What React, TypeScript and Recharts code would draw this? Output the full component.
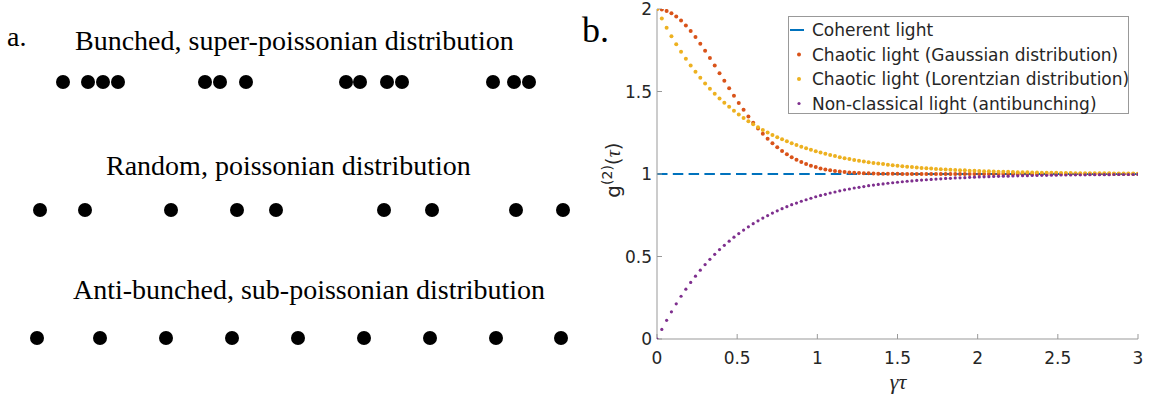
import React from "react";
import { LineChart, Line, XAxis, YAxis, ScatterChart, Scatter } from "recharts";

// panel b: g2(tau) curves, sampled every 0.03
const tau = [
	0, 0.03, 0.06, 0.09, 0.12, 0.15, 0.18, 0.21, 0.24, 0.27,
	0.3, 0.33, 0.36, 0.39, 0.42, 0.45, 0.48, 0.51, 0.54, 0.57,
	0.6, 0.63, 0.66, 0.69, 0.72, 0.75, 0.78, 0.81, 0.84, 0.87,
	0.9, 0.93, 0.96, 0.99, 1.02, 1.05, 1.08, 1.11, 1.14, 1.17,
	1.2, 1.23, 1.26, 1.29, 1.32, 1.35, 1.38, 1.41, 1.44, 1.47,
	1.5, 1.53, 1.56, 1.59, 1.62, 1.65, 1.68, 1.71, 1.74, 1.77,
	1.8, 1.83, 1.86, 1.89, 1.92, 1.95, 1.98, 2.01, 2.04, 2.07,
	2.1, 2.13, 2.16, 2.19, 2.22, 2.25, 2.28, 2.31, 2.34, 2.37,
	2.4, 2.43, 2.46, 2.49, 2.52, 2.55, 2.58, 2.61, 2.64, 2.67,
	2.7, 2.73, 2.76, 2.79, 2.82, 2.85, 2.88, 2.91, 2.94, 2.97,
	3,
];

const gaussian = [
	2.0, 1.997, 1.988, 1.974, 1.954, 1.93, 1.9, 1.867, 1.83, 1.79,
	1.747, 1.703, 1.657, 1.611, 1.565, 1.519, 1.474, 1.431, 1.389, 1.349,
	1.311, 1.276, 1.244, 1.214, 1.186, 1.162, 1.139, 1.119, 1.102, 1.086,
	1.072, 1.061, 1.05, 1.042, 1.034, 1.028, 1.023, 1.018, 1.015, 1.012,
	1.009, 1.007, 1.006, 1.005, 1.004, 1.003, 1.002, 1.002, 1.001, 1.001,
	1.001, 1, 1, 1, 1, 1, 1, 1, 1, 1,
	1, 1, 1, 1, 1, 1, 1, 1, 1, 1,
	1, 1, 1, 1, 1, 1, 1, 1, 1, 1,
	1, 1, 1, 1, 1, 1, 1, 1, 1, 1,
	1, 1, 1, 1, 1, 1, 1, 1, 1, 1,
	1,
];

const lorentzian = [
	2.0, 1.942, 1.887, 1.835, 1.787, 1.741, 1.698, 1.657, 1.619, 1.583,
	1.549, 1.517, 1.487, 1.458, 1.432, 1.407, 1.383, 1.361, 1.34, 1.32,
	1.301, 1.284, 1.267, 1.252, 1.237, 1.223, 1.21, 1.198, 1.186, 1.176,
	1.165, 1.156, 1.147, 1.138, 1.13, 1.123, 1.115, 1.109, 1.102, 1.096,
	1.091, 1.085, 1.081, 1.076, 1.071, 1.067, 1.063, 1.06, 1.056, 1.053,
	1.05, 1.047, 1.044, 1.042, 1.039, 1.037, 1.035, 1.033, 1.031, 1.029,
	1.027, 1.026, 1.024, 1.023, 1.022, 1.02, 1.019, 1.018, 1.017, 1.016,
	1.015, 1.014, 1.013, 1.013, 1.012, 1.011, 1.01, 1.01, 1.009, 1.009,
	1.008, 1.008, 1.007, 1.007, 1.006, 1.006, 1.006, 1.005, 1.005, 1.005,
	1.004, 1.004, 1.004, 1.004, 1.004, 1.003, 1.003, 1.003, 1.003, 1.003,
	1.002,
];

const antibunching = [
	0.0, 0.058, 0.113, 0.165, 0.213, 0.259, 0.302, 0.343, 0.381, 0.417,
	0.451, 0.483, 0.513, 0.542, 0.568, 0.593, 0.617, 0.639, 0.66, 0.68,
	0.699, 0.716, 0.733, 0.748, 0.763, 0.777, 0.79, 0.802, 0.814, 0.824,
	0.835, 0.844, 0.853, 0.862, 0.87, 0.877, 0.885, 0.891, 0.898, 0.904,
	0.909, 0.915, 0.919, 0.924, 0.929, 0.933, 0.937, 0.94, 0.944, 0.947,
	0.95, 0.953, 0.956, 0.958, 0.961, 0.963, 0.965, 0.967, 0.969, 0.971,
	0.973, 0.974, 0.976, 0.977, 0.978, 0.98, 0.981, 0.982, 0.983, 0.984,
	0.985, 0.986, 0.987, 0.987, 0.988, 0.989, 0.99, 0.99, 0.991, 0.991,
	0.992, 0.992, 0.993, 0.993, 0.994, 0.994, 0.994, 0.995, 0.995, 0.995,
	0.996, 0.996, 0.996, 0.996, 0.996, 0.997, 0.997, 0.997, 0.997, 0.997,
	0.998,
];

const coherentTau = [0, 3];
const coherentG = [1, 1];

const xTicks = [0, 0.5, 1, 1.5, 2, 2.5, 3];
const yTicks = [0, 0.5, 1, 1.5, 2];

const seriesNames = [
	"Coherent light",
	"Chaotic light (Gaussian distribution)",
	"Chaotic light (Lorentzian distribution)",
	"Non-classical light (antibunching)",
];
const seriesColors = ["#0072BD", "#D95319", "#EDB120", "#7E2F8E"];

// panel a: photon arrival times along each row
const rowTitles = [
	"Bunched, super-poissonian distribution",
	"Random, poissonian distribution",
	"Anti-bunched, sub-poissonian distribution",
];
const bunchedTimes = [63, 88, 103, 118, 205, 220, 246, 346, 360, 387, 402, 493, 514, 529];
const randomTimes = [40, 85, 171, 237, 276, 384, 432, 516, 563];
const antibunchedTimes = [37, 100, 166, 232, 298, 364, 430, 496, 561];

const chartData = tau.map((t, i) => ({
	t,
	gau: gaussian[i],
	lor: lorentzian[i],
	anti: antibunching[i],
}));
const coherentData = coherentTau.map((t, i) => ({ t, coh: coherentG[i] }));

const rows = [bunchedTimes, randomTimes, antibunchedTimes].map((times, r) =>
	times.map((x) => ({ x, y: r + 1 }))
);

const axisGray = "#999999";
const tickStyle = { fill: "#262626", fontSize: 17, fontFamily: "DejaVu Sans" };
const serif = "'Liberation Serif', serif";
const sans = "'DejaVu Sans', sans-serif";

// layout of the free text (title x start, baseline)
const titleX = [75, 106, 73];
const titleY = [50, 175, 299];
const legendRowY = [30, 54.5, 79, 103.5];

const photonDot = (props: any) => (
	<circle cx={props.cx} cy={props.cy} r={7} fill="#000" />
);

const App = () => {
	return (
		<div
			style={{
				position: "absolute",
				left: 0,
				top: 0,
				width: 1153,
				height: 400,
				background: "#fff",
			}}>
			<div style={{ position: "absolute", left: 0, top: 0 }}>
				<ScatterChart
					width={580}
					height={400}
					margin={{ top: 82, right: 0, bottom: 62, left: 0 }}>
					<XAxis type="number" dataKey="x" domain={[0, 580]} hide />
					<YAxis type="number" dataKey="y" domain={[1, 3]} reversed hide />
					{rows.map((row, i) => (
						<Scatter
							key={i}
							data={row}
							fill="#000"
							shape={photonDot}
							isAnimationActive={false}
						/>
					))}
				</ScatterChart>
			</div>

			<div style={{ position: "absolute", left: 580, top: 0 }}>
				<LineChart
					width={573}
					height={400}
					data={chartData}
					margin={{ top: 9, right: 15, bottom: 21, left: 17 }}>
					<XAxis
						dataKey="t"
						type="number"
						domain={[0, 3]}
						ticks={xTicks}
						interval={0}
						allowDataOverflow
						height={40}
						stroke={axisGray}
						tickSize={-5}
						tickMargin={18}
						tick={tickStyle}
					/>
					<XAxis
						xAxisId="top"
						orientation="top"
						type="number"
						domain={[0, 3]}
						ticks={xTicks}
						interval={0}
						allowDataOverflow
						height={0}
						stroke={axisGray}
						tickSize={-5}
						tick={false}
					/>
					<YAxis
						type="number"
						domain={[0, 2]}
						ticks={yTicks}
						interval={0}
						allowDataOverflow
						width={60}
						stroke={axisGray}
						tickSize={-5}
						tickMargin={10}
						tick={tickStyle}
					/>
					<YAxis
						yAxisId="right"
						orientation="right"
						type="number"
						domain={[0, 2]}
						ticks={yTicks}
						interval={0}
						allowDataOverflow
						width={0}
						stroke={axisGray}
						tickSize={-5}
						tick={false}
					/>
					<Line
						data={coherentData}
						dataKey="coh"
						stroke={seriesColors[0]}
						strokeWidth={2}
						strokeDasharray="10.5 5.3"
						dot={false}
						activeDot={false}
						isAnimationActive={false}
					/>
					<Line
						dataKey="gau"
						stroke="none"
						dot={{ r: 2, fill: seriesColors[1], stroke: "none" }}
						activeDot={false}
						isAnimationActive={false}
					/>
					<Line
						dataKey="lor"
						stroke="none"
						dot={{ r: 2, fill: seriesColors[2], stroke: "none" }}
						activeDot={false}
						isAnimationActive={false}
					/>
					<Line
						dataKey="anti"
						stroke="none"
						dot={{ r: 1.6, fill: seriesColors[3], stroke: "none" }}
						activeDot={false}
						isAnimationActive={false}
					/>
				</LineChart>
			</div>

			<svg
				width={1153}
				height={400}
				style={{ position: "absolute", left: 0, top: 0, pointerEvents: "none" }}>
				<text x={7} y={46} fontFamily={serif} fontSize={28} fill="#000">
					a.
				</text>
				{rowTitles.map((title, i) => (
					<text
						key={title}
						x={titleX[i]}
						y={titleY[i]}
						fontFamily={serif}
						fontSize={28}
						fill="#000">
						{title}
					</text>
				))}
				<text x={582} y={42} fontFamily={serif} fontSize={36} fill="#000">
					b.
				</text>

				{/* y label */}
				<text
					transform="translate(620,170) rotate(-90)"
					textAnchor="middle"
					fontFamily={sans}
					fontSize={20}
					fill="#262626">
					g
					<tspan dy={-8} fontSize={14}>
						(2)
					</tspan>
					<tspan dy={8}>(</tspan>
					<tspan fontFamily={serif} fontStyle="italic">
						τ
					</tspan>
					<tspan>)</tspan>
				</text>

				{/* x label */}
				<text
					x={898}
					y={389}
					textAnchor="middle"
					fontFamily={serif}
					fontStyle="italic"
					fontSize={22}
					fill="#262626">
					γτ
				</text>

				{/* legend */}
				<rect x={788.5} y={16.5} width={340} height={97} fill="#fff" stroke={axisGray} />
				{seriesNames.map((name, i) => (
					<g key={name}>
						{i === 0 ? (
							<line
								x1={790}
								x2={804}
								y1={legendRowY[i]}
								y2={legendRowY[i]}
								stroke={seriesColors[i]}
								strokeWidth={2}
							/>
						) : (
							<circle
								cx={799}
								cy={legendRowY[i]}
								r={i === 3 ? 1.6 : 2}
								fill={seriesColors[i]}
							/>
						)}
						<text
							x={812}
							y={legendRowY[i] + 6}
							fontFamily={sans}
							fontSize={17}
							fill="#262626">
							{name}
						</text>
					</g>
				))}
			</svg>
		</div>
	);
};

export default App;
